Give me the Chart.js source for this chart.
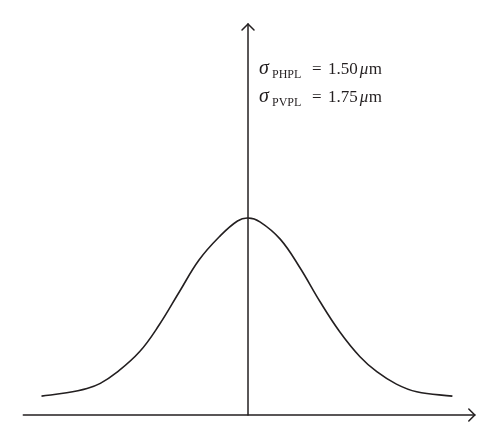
<!DOCTYPE html>
<html>
<head>
<meta charset="utf-8">
<script src="https://cdn.jsdelivr.net/npm/chart.js@4.4.0/dist/chart.umd.min.js"></script>
<style>
  body { margin: 0; background: #fff; }
  #wrap { width: 500px; height: 445px; }
</style>
</head>
<body>
<div id="wrap"><canvas id="curveChart" width="500" height="445"></canvas></div>
<script>
// curve (x in sigma units, y relative to peak)
const xValues = [-2.95, -2.59, -2.30, -2.11, -1.88, -1.55, -1.27, -0.98, -0.70, -0.41, -0.15, 0,
                 0.17, 0.46, 0.74, 1.03, 1.31, 1.60, 1.84, 2.12, 2.41, 2.92];
const yValues = [0.096, 0.113, 0.135, 0.161, 0.215, 0.321, 0.457, 0.626, 0.787, 0.905, 0.985, 1.0,
                 0.981, 0.893, 0.749, 0.575, 0.423, 0.296, 0.220, 0.157, 0.118, 0.096];

// axis extents
const xAxisFrom = -3.21;
const xAxisTo = 3.24;
const yAxisTo = 1.985;

const labelLines = [
    { sub: "PHPL", value: "1.50" },
    { sub: "PVPL", value: "1.75" }
];

const points = xValues.map((x, i) => ({ x: x, y: yValues[i] }));

const axesPlugin = {
    id: "arrowAxes",
    afterDatasetsDraw(chart) {
        const ctx = chart.ctx;
        const xs = chart.scales.x;
        const ys = chart.scales.y;
        const x0 = xs.getPixelForValue(xAxisFrom);
        const x1 = xs.getPixelForValue(xAxisTo);
        const yZero = ys.getPixelForValue(0);
        const xZero = xs.getPixelForValue(0);
        const yTop = ys.getPixelForValue(yAxisTo);

        ctx.save();
        ctx.strokeStyle = "#231f20";
        ctx.lineWidth = 1.5;
        ctx.lineCap = "round";

        // x axis
        ctx.beginPath();
        ctx.moveTo(x0, yZero);
        ctx.lineTo(x1, yZero);
        ctx.stroke();
        ctx.beginPath();
        ctx.moveTo(x1 - 6, yZero - 6);
        ctx.lineTo(x1, yZero);
        ctx.lineTo(x1 - 6, yZero + 6);
        ctx.stroke();

        // y axis
        ctx.beginPath();
        ctx.moveTo(xZero, yZero);
        ctx.lineTo(xZero, yTop);
        ctx.stroke();
        ctx.beginPath();
        ctx.moveTo(xZero - 6, yTop + 6);
        ctx.lineTo(xZero, yTop);
        ctx.lineTo(xZero + 6, yTop + 6);
        ctx.stroke();

        // sigma labels
        ctx.fillStyle = "#231f20";
        ctx.textBaseline = "alphabetic";
        let baseY = 74;
        labelLines.forEach(line => {
            ctx.font = "italic 20px 'Liberation Serif', serif";
            ctx.fillText("\u03c3", 259, baseY);
            ctx.font = "12px 'Liberation Serif', serif";
            ctx.fillText(line.sub, 272, baseY + 4);
            ctx.font = "17px 'Liberation Serif', serif";
            ctx.fillText("=", 312, baseY);
            ctx.fillText(line.value, 328, baseY);
            let tx = 328 + ctx.measureText(line.value).width + 2;
            ctx.font = "italic 17px 'Liberation Serif', serif";
            ctx.fillText("\u03bc", tx, baseY);
            tx += ctx.measureText("\u03bc").width + 0.5;
            ctx.font = "17px 'Liberation Serif', serif";
            ctx.fillText("m", tx, baseY);
            baseY += 28;
        });
        ctx.restore();
    }
};

new Chart(document.getElementById("curveChart"), {
    type: "scatter",
    data: {
        datasets: [{
            data: points,
            showLine: true,
            borderColor: "#231f20",
            borderWidth: 1.6,
            pointRadius: 0,
            fill: false,
            tension: 0.4
        }]
    },
    options: {
        responsive: false,
        animation: false,
        devicePixelRatio: 1,
        layout: { padding: 0 },
        plugins: {
            legend: { display: false },
            tooltip: { enabled: false }
        },
        scales: {
            x: { type: "linear", display: false, min: -3.543, max: 3.6 },
            y: { type: "linear", display: false, min: -0.152, max: 2.107 }
        }
    },
    plugins: [axesPlugin]
});
</script>
</body>
</html>
